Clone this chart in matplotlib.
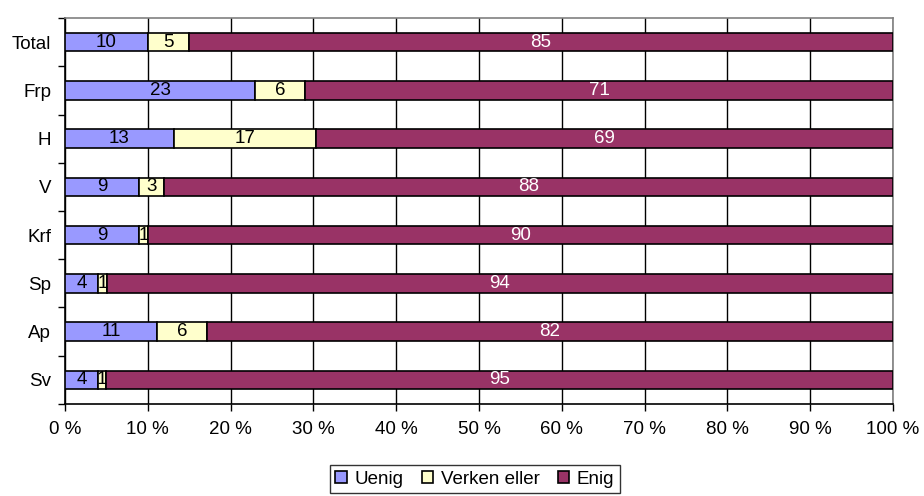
import numpy as np
import matplotlib
matplotlib.use("Agg")
import matplotlib.pyplot as plt

plt.rcParams["font.family"] = ["Liberation Sans", "DejaVu Sans"]

categories = ["Total", "Frp", "H", "V", "Krf", "Sp", "Ap", "Sv"]
uenig = [10, 23, 13, 9, 9, 4, 11, 4]
verken = [5, 6, 17, 3, 1, 1, 6, 1]
enig = [85, 71, 69, 88, 90, 94, 82, 95]
series_names = ["Uenig", "Verken eller", "Enig"]
colors = ["#9999FF", "#FFFFCC", "#993366"]
text_colors = ["black", "black", "white"]

data = np.array([uenig, verken, enig], dtype=float)
totals = data.sum(axis=0)
shares = data / totals * 100

fs = 13.5

fig = plt.figure(figsize=(9.24, 4.96), dpi=100)
ax = fig.add_axes([0.0703, 0.1855, 0.8962, 0.7782])

y = np.arange(len(categories))
left = np.zeros(len(categories))
for i in range(3):
    ax.barh(y, shares[i], left=left, height=0.38, color=colors[i],
            edgecolor="black", linewidth=1.2, label=series_names[i], zorder=3)
    for j in range(len(categories)):
        ax.text(left[j] + shares[i][j] / 2, y[j], f"{int(data[i][j])}",
                ha="center", va="center", fontsize=fs, color=text_colors[i], zorder=4)
    left += shares[i]

ax.set_xlim(0, 100)
ax.set_ylim(len(categories) - 0.5, -0.5)
ax.set_xticks(np.arange(0, 101, 10))
ax.set_xticklabels([f"{v} %" for v in range(0, 101, 10)], fontsize=fs)
ax.set_yticks(y)
ax.set_yticklabels(categories, fontsize=fs)
ax.tick_params(axis="y", which="major", length=0, pad=10)
ax.set_yticks(np.arange(-0.5, len(categories), 1), minor=True)
ax.tick_params(axis="y", which="minor", length=5, width=1, direction="out")
ax.tick_params(axis="x", length=5, width=1, direction="out", pad=7)

ax.xaxis.grid(True, color="black", linewidth=1, zorder=0)
ax.set_axisbelow(True)
for s in ["top", "right"]:
    ax.spines[s].set_color("#808080")
for s in ["left", "bottom"]:
    ax.spines[s].set_color("black")
for s in ax.spines.values():
    s.set_linewidth(1.2)

leg = fig.legend(loc="upper center", bbox_to_anchor=(0.514, 0.062), ncol=3,
                 fontsize=fs, frameon=True, fancybox=False, edgecolor="black",
                 handlelength=0.6, handleheight=0.6, handletextpad=0.4,
                 columnspacing=1.0, borderpad=0.3, borderaxespad=0)
leg.get_frame().set_linewidth(1)

fig.savefig("out.png", dpi=100)
